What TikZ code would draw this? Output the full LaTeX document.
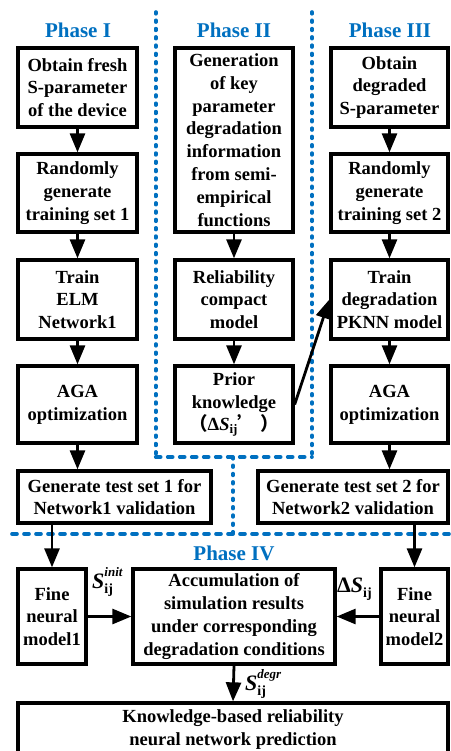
\documentclass[tikz,border=0pt]{standalone}
\usepackage{fontspec}
\setmainfont{Liberation Serif}
\newfontfamily\cjk{Noto Sans CJK SC}
\usetikzlibrary{arrows.meta}
\definecolor{phaseblue}{RGB}{0,112,192}

% symbol S with a superscript (#1) and the subscript (#2)
\newcommand\symS[2]{{\fontsize{22}{22}\selectfont\bfseries\itshape S}%
  \rlap{\raisebox{12pt}{\fontsize{13}{13}\selectfont\bfseries\itshape #1}}%
  \raisebox{-5pt}{\fontsize{14}{14}\selectfont\bfseries #2}}

\begin{document}
\begin{tikzpicture}[x=1pt,y=-1pt,
  box/.style={draw, line width=3.3pt, inner sep=0pt, align=center,
    font=\fontsize{18.5}{22.8}\selectfont\bfseries},
  flow/.style={line width=2.8pt, -{Triangle[length=19pt,width=15pt]}},
  title/.style={text=phaseblue, font=\fontsize{21}{24}\selectfont\bfseries},
  sepv/.style={draw=phaseblue, line width=3.6pt, line cap=round, dash pattern=on 1.8pt off 6.5pt},
  seph/.style={draw=phaseblue, line width=3.6pt, line cap=round, dash pattern=on 5pt off 7pt},
  lbl/.style={inner sep=0pt, anchor=base west},
]
\useasboundingbox (0,0) rectangle (450,751);

% phase separators
\draw[sepv] (155.7,12) -- (155.7,457);
\draw[sepv] (312,12) -- (312,457);
\draw[seph] (155.7,457) -- (312,457);
\draw[sepv] (233,457) -- (233,534);
\draw[seph] (12,534) -- (450,534);

% titles
\node[title] (t1) at (78,30) {Phase I};
\node[title] (t2) at (234,30) {Phase II};
\node[title] (t3) at (390,30) {Phase III};
\node[title] (t4) at (234,553) {Phase IV};

% Phase I
\node[box, minimum width=119pt, minimum height=79pt] (A1) at (77.5,87.5) {Obtain fresh\\S-parameter\\of the device};
\node[box, minimum width=119pt, minimum height=78pt] (A2) at (77.5,193) {Randomly\\generate\\training set 1};
\node[box, minimum width=119pt, minimum height=79pt] (A3) at (77.5,299.5) {Train\\ELM\\Network1};
\node[box, minimum width=119pt, minimum height=77pt] (A4) at (77.5,404.5) {AGA\\optimization};
\node[box, minimum width=193pt, minimum height=52pt] (A5) at (114.5,497) {Generate test set 1 for\\Network1 validation};

% Phase II
\node[box, minimum width=118pt, minimum height=184pt] (B1) at (234,140) {Generation\\of key\\parameter\\degradation\\information\\from semi-\\empirical\\functions};
\node[box, minimum width=118pt, minimum height=79pt] (B2) at (234,299.5) {Reliability\\compact\\model};
\node[box, minimum width=118pt, minimum height=77pt] (B3) at (234,404.5) {Prior\\knowledge\\{\cjk （}Δ\textit{S}\raisebox{-3pt}{\fontsize{13}{13}\selectfont ij}{\cjk ’\ ）}};

% Phase III
\node[box, minimum width=117pt, minimum height=79pt] (C1) at (389.5,87.5) {Obtain\\degraded\\S-parameter};
\node[box, minimum width=117pt, minimum height=78pt] (C2) at (389.5,193) {Randomly\\generate\\training set 2};
\node[box, minimum width=117pt, minimum height=79pt] (C3) at (389.5,299.5) {Train\\degradation\\PKNN model};
\node[box, minimum width=117pt, minimum height=77pt] (C4) at (389.5,404.5) {AGA\\optimization};
\node[box, minimum width=190pt, minimum height=52pt] (C5) at (353,497) {Generate test set 2 for\\Network2 validation};

% Phase IV
\node[box, minimum width=68pt, minimum height=95pt] (D1) at (52,616.5) {Fine\\neural\\model1};
\node[box, minimum width=202pt, minimum height=95pt] (D2) at (234,616.5) {Accumulation of\\simulation results\\under corresponding\\degradation conditions};
\node[box, minimum width=67pt, minimum height=95pt] (D3) at (414.5,616.5) {Fine\\neural\\model2};
\node[box, minimum width=430pt, minimum height=53pt] (E) at (233,729.5) {Knowledge-based reliability\\neural network prediction};

% connectors
\draw[flow] (A1.south) -- (A2.north);
\draw[flow] (A2.south) -- (A3.north);
\draw[flow] (A3.south) -- (A4.north);
\draw[flow] (A4.south) -- (A4.south |- A5.north);
\draw[flow] (A5.south -| D1.north) -- (D1.north);

\draw[flow] (B1.south) -- (B2.north);
\draw[flow] (B2.south) -- (B3.north);
\draw[flow] (B3.east) -- (C3.west);

\draw[flow] (C1.south) -- (C2.north);
\draw[flow] (C2.south) -- (C3.north);
\draw[flow] (C3.south) -- (C4.north);
\draw[flow] (C4.south) -- (C4.south |- C5.north);
\draw[flow] (C5.south -| D3.north) -- (D3.north);

\draw[flow] (D1.east) -- (D2.west);
\draw[flow] (D3.west) -- (D2.east);
\draw[flow] (D2.south) -- (E.north);

% signal labels
\node[lbl] (sinit) at (92,588) {\symS{init}{ij}};
\node[lbl] (dsij) at (337,592) {{\fontsize{22}{22}\selectfont\bfseries Δ}\symS{}{ij}};
\node[lbl] (sdegr) at (245,690) {\symS{degr}{ij}};
\end{tikzpicture}
\end{document}
